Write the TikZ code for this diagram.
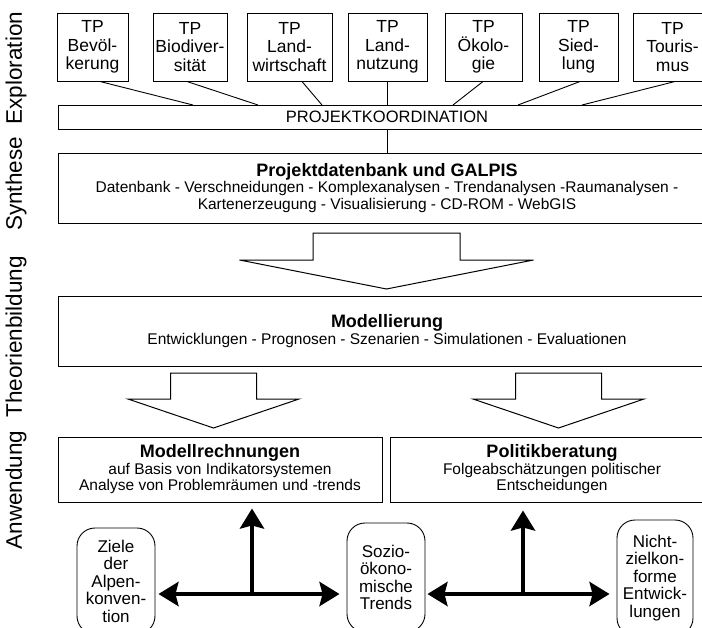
\documentclass[tikz,border=0pt]{standalone}
\usepackage{fontspec}
\setmainfont{Liberation Sans}
\usetikzlibrary{arrows.meta,calc}
\tikzset{
  box/.style={draw, line width=1pt, inner sep=0pt, align=center, fill=white},
  tpbox/.style={box, minimum height=68pt, font=\fontsize{17.5}{18.5}\selectfont},
  widebox/.style={box, minimum width=658pt, font=\fontsize{15.5}{16.5}\selectfont},
  halfbox/.style={box, minimum width=324pt, minimum height=65pt, font=\fontsize{15.5}{16.5}\selectfont},
  sidelabel/.style={rotate=90, inner sep=0pt, font=\fontsize{22.5}{22.5}\selectfont},
  conn/.style={line width=0.9pt},
  oval/.style={draw, line width=0.9pt, rounded corners=18pt, inner sep=0pt, align=center, font=\fontsize{17}{17.5}\selectfont},
  tip/.style={Stealth[length=20pt,width=24pt,inset=3pt]},
  barrow/.style={line width=4.5pt, -{Stealth[length=20pt,width=24pt,inset=3pt]}},
  dbarrow/.style={line width=4.5pt, {Stealth[length=20pt,width=24pt,inset=3pt]}-{Stealth[length=20pt,width=24pt,inset=3pt]}},
  pics/hollowarrow/.style n args={4}{code={
    \draw[line width=1pt, fill=white] (-#1,0) -- (-#1,#3) -- (-#2,#3) -- (0,#4) -- (#2,#3) -- (#1,#3) -- (#1,0) -- cycle;}}
}
\begin{document}
\begin{tikzpicture}[x=1pt,y=-1pt]
\useasboundingbox (0,0) rectangle (702,627);
\fill[white] (0,0) rectangle (702,627);
\clip (0,0) rectangle (702,627);

% side labels
\node[sidelabel] (lexp) at (16,68) {Exploration};
\node[sidelabel] (lsyn) at (16,184) {Synthese};
\node[sidelabel] (lthe) at (16,337) {Theorienbildung};
\node[sidelabel] (lanw) at (16,490) {Anwendung};

% TP boxes
\node[tpbox, minimum width=71pt] (tp1) at (92.5,47) {TP\\Bevöl-\\kerung};
\node[tpbox, minimum width=74pt] (tp2) at (190,47) {TP\\Biodiver-\\sität};
\node[tpbox, minimum width=85pt] (tp3) at (289.5,47) {TP\\Land-\\wirtschaft};
\node[tpbox, minimum width=79pt] (tp4) at (387.5,47) {TP\\Land-\\nutzung};
\node[tpbox, minimum width=77pt] (tp5) at (483.5,47) {TP\\Ökolo-\\gie};
\node[tpbox, minimum width=79pt] (tp6) at (578.5,47) {TP\\Sied-\\lung};
\node[tpbox, minimum width=79pt] (tp7) at (672.5,47) {TP\\Touris-\\mus};

% coordination bar
\node[widebox, minimum height=24pt, font=\fontsize{16.5}{17}\selectfont] (bar) at (387,117) {PROJEKTKOORDINATION};

\coordinate (b1) at (193,105);
\coordinate (b2) at (258,105);
\coordinate (b3) at (322,105);
\coordinate (b5) at (453,105);
\coordinate (b6) at (518,105);
\coordinate (b7) at (582,105);
\draw[conn] ($(tp1.south)+(7.5,0)$) -- (b1);
\draw[conn] ($(tp2.south)+(-3,0)$) -- (b2);
\draw[conn] ($(tp3.south)+(12.5,0)$) -- (b3);
\draw[conn] (tp4.south) -- (tp4.south |- bar.north);
\draw[conn] ($(tp5.south)+(-0.5,0)$) -- (b5);
\draw[conn] ($(tp6.south)+(1.5,0)$) -- (b6);
\draw[conn] ($(tp7.south)+(2.5,0)$) -- (b7);

% Projektdatenbank
\node[widebox, minimum height=70pt] (db) at (387,188)
  {{\fontsize{18}{16.5}\selectfont\bfseries Projektdatenbank und GALPIS}\\
   Datenbank - Verschneidungen - Komplexanalysen - Trendanalysen -Raumanalysen -\\
   Kartenerzeugung - Visualisierung - CD-ROM - WebGIS};
\draw[conn] (tp4.south |- bar.south) -- (tp4.south |- db.north);

% big hollow arrow
\pic (a1) at (386.5,233) {hollowarrow={73.5}{147}{27}{56}};

% Modellierung
\node[widebox, minimum height=70pt] (mod) at (387,331)
  {{\fontsize{18}{16.5}\selectfont\bfseries Modellierung}\\
   Entwicklungen - Prognosen - Szenarien - Simulationen - Evaluationen};

% two hollow arrows
\pic (a2) at (213.5,373) {hollowarrow={43}{85.5}{26}{55}};
\pic (a3) at (558.5,373) {hollowarrow={43}{85.5}{26}{55}};

% bottom boxes
\node[halfbox] (mr) at (220,469.5)
  {{\fontsize{18}{16.5}\selectfont\bfseries Modellrechnungen}\\
   auf Basis von Indikatorsystemen\\
   Analyse von Problemräumen und -trends};
\node[halfbox] (pb) at (552,469.5)
  {{\fontsize{18}{16.5}\selectfont\bfseries Politikberatung}\\
   Folgeabschätzungen politischer\\
   Entscheidungen};

% ovals
\node[oval, minimum width=78pt, minimum height=106pt] (ov1) at (116,581) {Ziele\\der\\Alpen-\\konven-\\tion};
\node[oval, minimum width=78pt, minimum height=109pt] (ov2) at (386,577.5) {Sozio-\\ökono-\\mische\\Trends};
\node[oval, minimum width=76pt, minimum height=116pt] (ov3) at (655,578) {Nicht-\\zielkon-\\forme\\Entwick-\\lungen};

% black arrows
\coordinate (j1) at (252,594);
\coordinate (j2) at (523,594);
\draw[dbarrow, shorten <=3pt, shorten >=7pt] (ov1.east |- j1) -- (ov2.west |- j1);
\draw[dbarrow, shorten <=2pt, shorten >=7pt] (ov2.east |- j2) -- (ov3.west |- j2);
\draw[barrow] (j1) -- ($(mr.south -| j1)+(0,6)$);
\draw[barrow] (j2) -- ($(pb.south -| j2)+(0,8)$);
\end{tikzpicture}
\end{document}
